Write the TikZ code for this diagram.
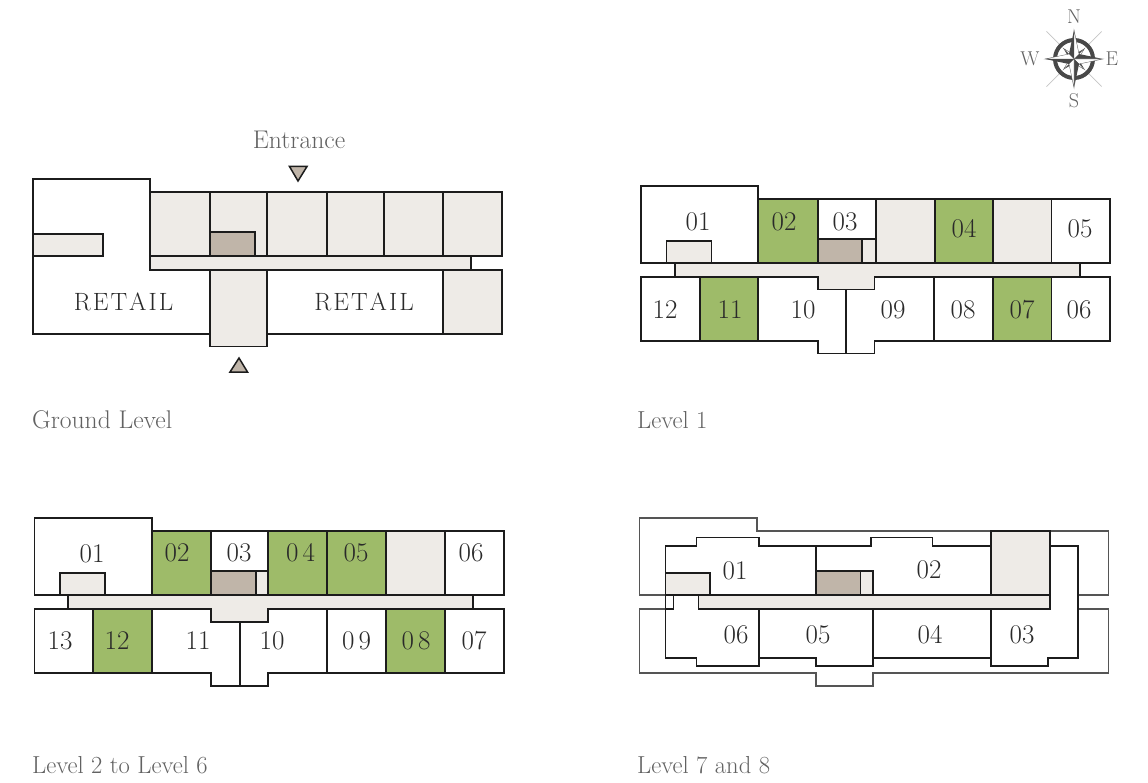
\documentclass[tikz,border=0pt]{standalone}
\usepackage{fontspec}
\definecolor{greenunit}{HTML}{9EBB69}
\definecolor{lightfill}{HTML}{EEEBE7}
\definecolor{liftfill}{HTML}{C0B5A9}
\definecolor{linedark}{HTML}{1C1C1C}
\definecolor{thinline}{HTML}{555555}
\definecolor{caption}{HTML}{626262}
\definecolor{numtext}{HTML}{2A2A2A}
\definecolor{compassdark}{HTML}{484848}
\definecolor{compassgrey}{HTML}{C4C4C4}
\tikzset{
  wall/.style={draw=linedark,line width=1.5pt,line join=miter},
  outline/.style={draw=thinline,line width=1.1pt},
  pale/.style={wall,fill=lightfill},
  liftbox/.style={wall,fill=liftfill},
  sold/.style={wall,fill=greenunit},
  num/.style={text=numtext,font=\fontsize{27}{27}\selectfont,inner sep=0pt},
  retail/.style={text=numtext,font=\fontsize{25}{25}\selectfont,inner sep=0pt},
  captext/.style={text=caption,font=\fontsize{25.6}{25.6}\selectfont,inner sep=0pt,anchor=base west},
  levelcap/.style={captext,font=\fontsize{24.6}{24.6}\selectfont},
  compassletter/.style={text=caption,font=\fontsize{20}{20}\selectfont,inner sep=0pt},
}
\begin{document}
\begin{tikzpicture}[x=1pt,y=-1pt]
\useasboundingbox (0,0) rectangle (1148,783);

% ---------- Ground level
\draw[wall] (150,192) -- (150,179) -- (33,179) -- (33,334) -- (210,334);
\draw[wall] (267,334) -- (443,334);
\draw[wall] (150,270) -- (210,270);
\draw[wall] (267,270) -- (443,270);
\foreach \xa/\xb in {150/210,210/267,267/327,327/384,384/443,443/502}
  \draw[pale] (\xa,192) rectangle (\xb,256);
\draw[pale] (443,270) rectangle (502,334);
\draw[pale] (150,256) rectangle (471,270);
\draw[wall] (471,270) -- (502,270);
\draw[pale] (210,270) rectangle (267,346.5);
\draw[pale] (33,234) rectangle (103,256);
\draw[liftbox] (210,232) rectangle (255,256);
\draw[liftbox] (289.5,166.5) -- (307,166.5) -- (298,181) -- cycle;
\draw[liftbox] (239,358) -- (247.5,372) -- (230,372) -- cycle;
\node[text=caption,font=\fontsize{25.6}{25.6}\selectfont,inner sep=0pt] (entrance) at (299,140) {Entrance};
\node[retail] (retaila) at (123.5,302) {R\kern2pt E\kern2pt T\kern2pt A\kern2pt I\kern2pt L};
\node[retail] (retailb) at (364,302) {R\kern2pt E\kern2pt T\kern2pt A\kern2pt I\kern2pt L};
\node[captext] (capa) at (32,428) {Ground Level};

% ---------- Level 1
\draw[wall,fill=white] (641,263) -- (641,186) -- (758,186) -- (758,263) -- cycle;
\draw[sold] (758,199) rectangle (818,263);
\draw[wall] (818,199) rectangle (876,239);
\draw[pale] (876,199) rectangle (935,263);
\draw[sold] (935,199) rectangle (993,263);
\draw[pale] (993,199) rectangle (1051.5,263);
\draw[wall] (1051.5,199) rectangle (1110,263);
\draw[pale] (862,239) rectangle (876,263);
\draw[liftbox] (818,239) rectangle (862,263);
\draw[pale] (666.5,241) rectangle (711.5,263);
\draw[wall] (641,277) rectangle (700,341);
\draw[sold] (700,277) rectangle (758,341);
\draw[wall] (758,277) -- (818,277) -- (818,289.5) -- (874.5,289.5) -- (874.5,277) -- (934,277) -- (934,341) -- (874.5,341) -- (874.5,353.5) -- (818,353.5) -- (818,341) -- (758,341) -- cycle;
\draw[wall] (846,289.5) -- (846,353.5);
\draw[wall] (934,277) rectangle (993,341);
\draw[sold] (993,277) rectangle (1051.5,341);
\draw[wall] (1051.5,277) rectangle (1110,341);
\draw[wall,fill=lightfill] (675,277) -- (675,263) -- (1080,263) -- (1080,277) -- (874.5,277) -- (874.5,289.5) -- (818,289.5) -- (818,277) -- cycle;
\foreach \nm/\px/\py/\tx in {a/698/222/01,b/784/222/02,c/845/222/03,d/964/229/04,e/1080/229/05,f/665/310/12,g/730/310/11,h/803/310/10,i/893/310/09,j/963/310/08,k/1022/310/07,l/1079/310/06}
  \node[num] (la\nm) at (\px,\py) {\tx};
\node[levelcap] (capb) at (637,428) {Level 1};

% ---------- Level 2 to 6
\draw[wall] (34.5,595) -- (34.5,518) -- (152,518) -- (152,595) -- cycle;
\draw[sold] (152,531) rectangle (211,595);
\draw[wall] (211,531) rectangle (268,571);
\draw[sold] (268,531) rectangle (327,595);
\draw[sold] (327,531) rectangle (386,595);
\draw[pale] (386,531) rectangle (445,595);
\draw[wall] (445,531) rectangle (504,595);
\draw[pale] (256,571) rectangle (268,595);
\draw[liftbox] (211,571) rectangle (256,595);
\draw[pale] (60,573) rectangle (105,595);
\draw[wall] (34.5,609) rectangle (93,673);
\draw[sold] (93,609) rectangle (152,673);
\draw[wall] (152,609) -- (211,609) -- (211,622) -- (268,622) -- (268,609) -- (327,609) -- (327,673) -- (268,673) -- (268,686) -- (211,686) -- (211,673) -- (152,673) -- cycle;
\draw[wall] (240,622) -- (240,686);
\draw[wall] (327,609) rectangle (386,673);
\draw[sold] (386,609) rectangle (445,673);
\draw[wall] (445,609) rectangle (504,673);
\draw[wall,fill=lightfill] (68,609) -- (68,595) -- (473,595) -- (473,609) -- (268,609) -- (268,622) -- (211,622) -- (211,609) -- cycle;
\foreach \nm/\px/\py/\tx in {a/92/554/01,b/177/553/02,c/239/553/03,e/356/553/05,f/471/553/06,g/60/641/13,h/117/641/12,i/198/641/11,j/272/641/10,m/474/641/07}
  \node[num] (lb\nm) at (\px,\py) {\tx};
\node[num] (lbd) at (300.5,553) {0\kern4pt 4};
\node[num] (lbk) at (356.5,641) {0\kern4pt 9};
\node[num] (lbl) at (416,641) {0\kern4pt 8};
\node[levelcap] (capc) at (32,773) {Level 2 to Level 6};

% ---------- Level 7 and 8
\draw[outline] (665.5,595) -- (639.5,595) -- (639.5,518) -- (757,518) -- (757,531) -- (991,531);
\draw[outline] (1050,531) -- (1108.7,531) -- (1108.7,595) -- (1078,595);
\draw[outline] (665.5,609) -- (639.5,609) -- (639.5,673) -- (816,673) -- (816,686) -- (873,686) -- (873,673) -- (1108.7,673) -- (1108.7,609) -- (1078,609);
\draw[wall] (991,546) -- (932.7,546) -- (932.7,537.7) -- (871,537.7) -- (871,546) -- (759,546) -- (759,537.7) -- (696.7,537.7) -- (696.7,546) -- (665.5,546) -- (665.5,609) -- (673.5,609) -- (673.5,595);
\draw[wall] (1050,546) -- (1078,546) -- (1078,658) -- (1048,658) -- (1048,666) -- (991,666) -- (991,658) -- (873,658) -- (873,666) -- (816,666) -- (816,658) -- (759,658) -- (759,666) -- (696.7,666) -- (696.7,658) -- (665.5,658) -- (665.5,609);
\draw[wall] (816,546) -- (816,571);
\draw[wall] (759,609) -- (759,658);
\draw[wall] (873,609) -- (873,658);
\draw[wall] (991,609) -- (991,658);
\draw[pale] (991,531) rectangle (1050,595);
\draw[pale] (698.5,595) rectangle (1050,609);
\draw[wall] (665.5,595) -- (1050,595);
\draw[pale] (860.5,571) rectangle (873,595);
\draw[liftbox] (816,571) rectangle (860.5,595);
\draw[pale] (665.5,573) rectangle (710,595);
\foreach \nm/\px/\py/\tx in {a/735/571/01,b/929/570/02,c/1022/635/03,d/930/635/04,e/818/635/05,f/736/635/06}
  \node[num] (lc\nm) at (\px,\py) {\tx};
\node[levelcap] (capd) at (637,773) {Level 7 and 8};

% ---------- Compass
\begin{scope}[shift={(1074,59)}]
  \foreach \a in {45,135,225,315}
    \draw[compassgrey,line width=0.7pt] (\a:18) -- (\a:39);
  \draw[compassdark,line width=4pt] (0,0) circle (19);
  \foreach \a in {45,135,225,315} {
    \fill[compassdark,rotate=\a] (0,0) -- (15,0) -- (3,-3) -- cycle;
    \fill[white,draw=compassdark,line width=0.3pt,rotate=\a] (0,0) -- (15,0) -- (3,3) -- cycle;
  }
  \foreach \a in {0,90,180,270} {
    \fill[compassdark,rotate=\a] (0,0) -- (29,0) -- (5,-5) -- cycle;
    \fill[white,draw=compassdark,line width=0.3pt,rotate=\a] (0,0) -- (29,0) -- (5,5) -- cycle;
  }
\end{scope}
\node[compassletter] (compn) at (1074,17) {N};
\node[compassletter] (comps) at (1074,101) {S};
\node[compassletter] (compw) at (1030,59) {W};
\node[compassletter] (compe) at (1112,59) {E};
\end{tikzpicture}
\end{document}
